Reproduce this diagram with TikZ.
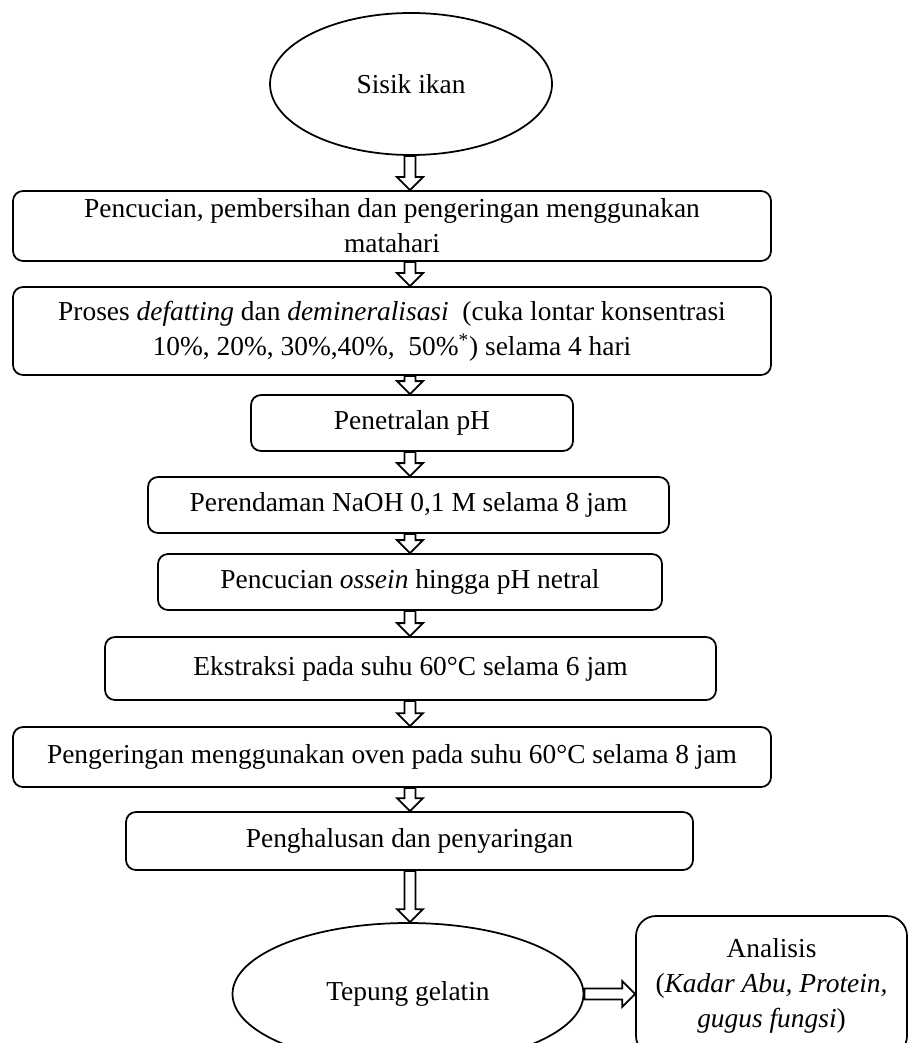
\documentclass[tikz,border=0pt]{standalone}
\usepackage{fontspec}
\setmainfont{Liberation Serif}
\usetikzlibrary{shapes.geometric,calc}

\newlength{\pxu}
\setlength{\pxu}{0.02cm}

\newcommand{\blockdown}[2]{%
  \draw[hollow] ($(#1.south -| col)+(-5.5,0)$) -- ($(#2.north -| col)+(-5.5,-13)$)
    -- ++(-7.5,0) -- (#2.north -| col) -- ++(13,-13) -- ++(-7.5,0)
    -- ($(#1.south -| col)+(5.5,0)$) -- cycle;}
\newcommand{\blockright}[2]{%
  \draw[hollow] ($(#1.east)+(0,-5.5)$) -- ($(#2.west |- #1.east)+(-13,-5.5)$)
    -- ++(0,-7.5) -- (#2.west |- #1.east) -- ++(-13,13) -- ++(0,-7.5)
    -- ($(#1.east)+(0,5.5)$) -- cycle;}

\begin{document}
\begin{tikzpicture}[x=0.02cm, y=-0.02cm, font=\fontsize{15.6}{20}\selectfont,
    stepbox/.style={draw, rounded corners=10\pxu, line width=1pt, inner sep=0pt, align=center},
    oval/.style={draw, ellipse, line width=1pt, inner sep=0pt},
    hollow/.style={draw, fill=white, line width=1pt, line join=miter}]
    \clip (0,0) rectangle (909,1043);
    \coordinate (col) at (410,0);
    \node[oval, minimum width=282\pxu, minimum height=142\pxu] (ikan) at (411,84) {Sisik ikan};
    \node[stepbox, minimum width=758\pxu, minimum height=70\pxu] (cuci) at (392,226)
        {Pencucian, pembersihan dan pengeringan menggunakan\\ matahari};
    \node[stepbox, minimum width=758\pxu, minimum height=88\pxu] (defat) at (392,331)
        {Proses \textit{defatting} dan \textit{demineralisasi}\ \ (cuka lontar konsentrasi\\
         10\%, 20\%, 30\%,40\%,\ \ 50\%\textsuperscript{*}) selama 4 hari};
    \node[stepbox, minimum width=322\pxu, minimum height=56\pxu] (netral) at (412,423) {Penetralan pH};
    \node[stepbox, minimum width=521\pxu, minimum height=56\pxu] (naoh) at (408.5,505)
        {Perendaman NaOH 0,1 M selama 8 jam};
    \node[stepbox, minimum width=504\pxu, minimum height=56\pxu] (ossein) at (410,582)
        {Pencucian \textit{ossein} hingga pH netral};
    \node[stepbox, minimum width=611\pxu, minimum height=63\pxu] (ekstr) at (410.5,668.5)
        {Ekstraksi pada suhu 60°C selama 6 jam};
    \node[stepbox, minimum width=758\pxu, minimum height=60\pxu] (oven) at (392,757)
        {Pengeringan menggunakan oven pada suhu 60°C selama 8 jam};
    \node[stepbox, minimum width=567\pxu, minimum height=58\pxu] (halus) at (409.5,841)
        {Penghalusan dan penyaringan};
    \node[oval, minimum width=351\pxu, minimum height=142\pxu] (tepung) at (408,994) {Tepung gelatin};
    \node[stepbox, rounded corners=20\pxu, minimum width=271\pxu, minimum height=140\pxu] (analisis) at (771.5,986)
        {Analisis\\ (\textit{Kadar Abu, Protein,}\\ \textit{gugus fungsi})};
    \blockdown{ikan}{cuci}
    \blockdown{cuci}{defat}
    \blockdown{defat}{netral}
    \blockdown{netral}{naoh}
    \blockdown{naoh}{ossein}
    \blockdown{ossein}{ekstr}
    \blockdown{ekstr}{oven}
    \blockdown{oven}{halus}
    \blockdown{halus}{tepung}
    \blockright{tepung}{analisis}
\end{tikzpicture}
\end{document}
